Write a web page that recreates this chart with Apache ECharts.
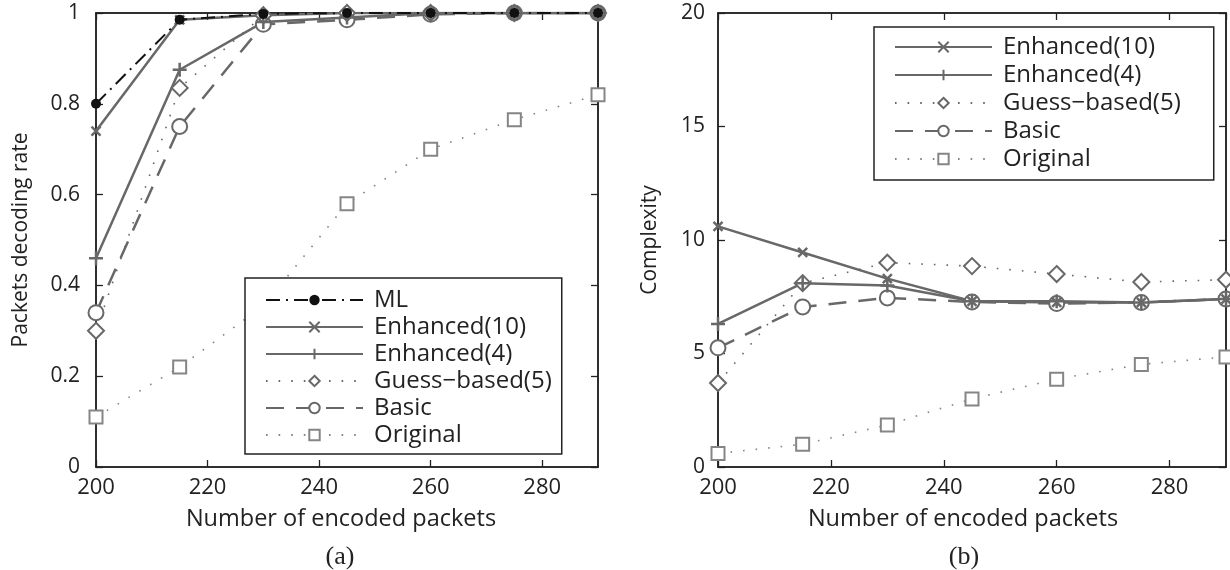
<!DOCTYPE html>
<html>
<head>
<meta charset="utf-8">
<script src="https://cdn.jsdelivr.net/npm/echarts@6/dist/echarts.min.js"></script>
<style>html,body{margin:0;padding:0;background:#fff}#c{width:1230px;height:570px}</style>
</head>
<body>
<div id="c"></div>
<script>
// ---- data ----
const xValues = [200, 215, 230, 245, 260, 275, 290];
const xTicks = [200, 220, 240, 260, 280];
// (a) Packets decoding rate
const rateML        = [0.80, 0.985, 0.998, 1.0, 1.0, 1.0, 1.0];
const rateEnh10     = [0.74, 0.985, 0.995, 1.0, 1.0, 1.0, 1.0];
const rateEnh4      = [0.46, 0.875, 0.98, 0.99, 1.0, 1.0, 1.0];
const rateGuess5    = [0.30, 0.835, 0.995, 1.0, 1.0, 1.0, 1.0];
const rateBasic     = [0.34, 0.75, 0.975, 0.985, 0.997, 1.0, 1.0];
const rateOriginal  = [0.11, 0.22, 0.355, 0.58, 0.70, 0.765, 0.82];
// (b) Complexity
const cxEnh10    = [10.6, 9.45, 8.3, 7.3, 7.25, 7.25, 7.4];
const cxEnh4     = [6.3, 8.1, 8.0, 7.3, 7.3, 7.25, 7.4];
const cxGuess5   = [3.7, 8.1, 9.0, 8.85, 8.5, 8.15, 8.25];
const cxBasic    = [5.25, 7.05, 7.45, 7.27, 7.2, 7.25, 7.4];
const cxOriginal = [0.6, 1.0, 1.85, 3.0, 3.87, 4.52, 4.85];
const rateTicks = [0, 0.2, 0.4, 0.6, 0.8, 1];
const cxTicks = [0, 5, 10, 15, 20];
const names = ['ML', 'Enhanced(10)', 'Enhanced(4)', 'Guess\u2212based(5)', 'Basic', 'Original'];

// ---- styles ----
const FONT = 'Open Sans';
const DARK = '#222';
const GREY = '#686868';
const LGREY = '#858585';
const pair = arr => xValues.map((x, i) => [x, arr[i]]);
const X_SYM = 'path://M0,0L10,10M10,0L0,10';
const P_SYM = 'path://M5,0L5,10M0,5L10,5';

const styles = {
  'ML': {color:'#111', width:2, type:[14,6,2,6], symbol:'circle', size:10, bw:0},
  'Enhanced(10)': {color:GREY, width:2.5, type:'solid', symbol:X_SYM, size:9, bw:2.5},
  'Enhanced(4)': {color:GREY, width:2.5, type:'solid', symbol:P_SYM, size:14, bw:2.5},
  'Guess\u2212based(5)': {color:GREY, width:1.6, type:[1.6,11], symbol:'emptyDiamond', size:16, bw:2.5},
  'Basic': {color:GREY, width:2.5, type:[18,12], symbol:'emptyCircle', size:15, bw:2.5},
  'Original': {color:LGREY, width:1.6, type:[1.6,11], symbol:'emptyRect', size:13, bw:3}
};

function mk(name, data, gi) {
  const s = styles[name];
  return {
    type:'line', name, xAxisIndex: gi, yAxisIndex: gi,
    data: pair(data), symbol: s.symbol, symbolSize: s.size, showSymbol: true,
    lineStyle: {color: s.color, width: s.width, type: s.type},
    itemStyle: {color: s.color, borderColor: s.color, borderWidth: s.bw},
    emphasis: {disabled: true}, animation: false, z: 3
  };
}

function xAxis(gi, top, padR) {
  return {
    type:'value', gridIndex: gi, min: 200, max: 290, interval: 20,
    position: top ? 'top' : 'bottom',
    name: top ? '' : 'Number of encoded packets', nameLocation:'middle', nameGap: 40,
    nameTextStyle: {fontFamily: FONT, fontSize: 23.5, color: DARK, padding:[0,padR||0,0,0]},
    axisLine: {show: true, onZero: false, lineStyle: {color: DARK, width: 1.5}},
    axisTick: {show: true, inside: true, length: 7, lineStyle: {color: DARK, width: 1.3}},
    axisLabel: {show: !top, showMaxLabel: false, margin: 10, fontFamily: FONT, fontSize: 22, color: DARK},
    splitLine: {show: false}
  };
}
function yAxis(gi, right, max, interval, name, gap, lblMargin) {
  return {
    type:'value', gridIndex: gi, min: 0, max, interval,
    position: right ? 'right' : 'left',
    name: right ? '' : name, nameLocation:'middle', nameGap: gap,
    nameTextStyle: {fontFamily: FONT, fontSize: 21, color: DARK},
    axisLine: {show: true, onZero: false, lineStyle: {color: DARK, width: 1.5}},
    axisTick: {show: true, inside: true, length: 7, lineStyle: {color: DARK, width: 1.3}},
    axisLabel: {show: !right, margin: lblMargin, fontFamily: FONT, fontSize: 21, color: DARK},
    splitLine: {show: false}
  };
}

const legendBase = {
  orient:'vertical', itemWidth: 97, itemHeight: 13,
  borderColor: DARK, borderWidth: 1.5, backgroundColor:'#fff', borderRadius: 0,
  textStyle: {fontFamily: FONT, fontSize: 24, color: DARK, lineHeight: 24, padding:[0,0,0,6]},
  selectedMode: false, z: 10
};

const option = {
  backgroundColor:'#fff',
  animation: false,
  grid: [
    {left: 96, top: 13, width: 502, height: 454, show: true, borderColor: DARK, borderWidth: 1.5, backgroundColor:'transparent'},
    {left: 718, top: 13, width: 508, height: 454, show: true, borderColor: DARK, borderWidth: 1.5, backgroundColor:'transparent'}
  ],
  xAxis: [xAxis(0,false,12), xAxis(1,false,18), xAxis(0,true), xAxis(1,true)],
  yAxis: [
    yAxis(0,false,1,0.2,'Packets decoding rate',64,16),
    yAxis(1,false,20,5,'Complexity',57,13),
    yAxis(0,true,1,0.2,'',0,0),
    yAxis(1,true,20,5,'',0,0)
  ],
  legend: [
    Object.assign({}, legendBase, {left: 245, top: 278, padding:[10,10,7,20], itemGap: 3, data: names}),
    Object.assign({}, legendBase, {left: 874, top: 27, padding:[8,33,9,20], itemGap: 4, data: names.slice(1)})
  ],
  series: [
    mk('Original', rateOriginal, 0),
    mk('Basic', rateBasic, 0),
    mk('Guess\u2212based(5)', rateGuess5, 0),
    mk('Enhanced(4)', rateEnh4, 0),
    mk('Enhanced(10)', rateEnh10, 0),
    mk('ML', rateML, 0),
    mk('Original', cxOriginal, 1),
    mk('Basic', cxBasic, 1),
    mk('Guess\u2212based(5)', cxGuess5, 1),
    mk('Enhanced(4)', cxEnh4, 1),
    mk('Enhanced(10)', cxEnh10, 1)
  ],
  graphic: [
    {type:'text', x: 340, y: 544, style:{text:'(a)', align:'center', verticalAlign:'top', fontFamily:'Liberation Serif', fontSize: 26, fill: DARK}},
    {type:'text', x: 964, y: 544, style:{text:'(b)', align:'center', verticalAlign:'top', fontFamily:'Liberation Serif', fontSize: 26, fill: DARK}}
  ]
};

const chart = echarts.init(document.getElementById('c'), null, {renderer:'canvas'});
chart.setOption(option);
</script>
</body>
</html>
